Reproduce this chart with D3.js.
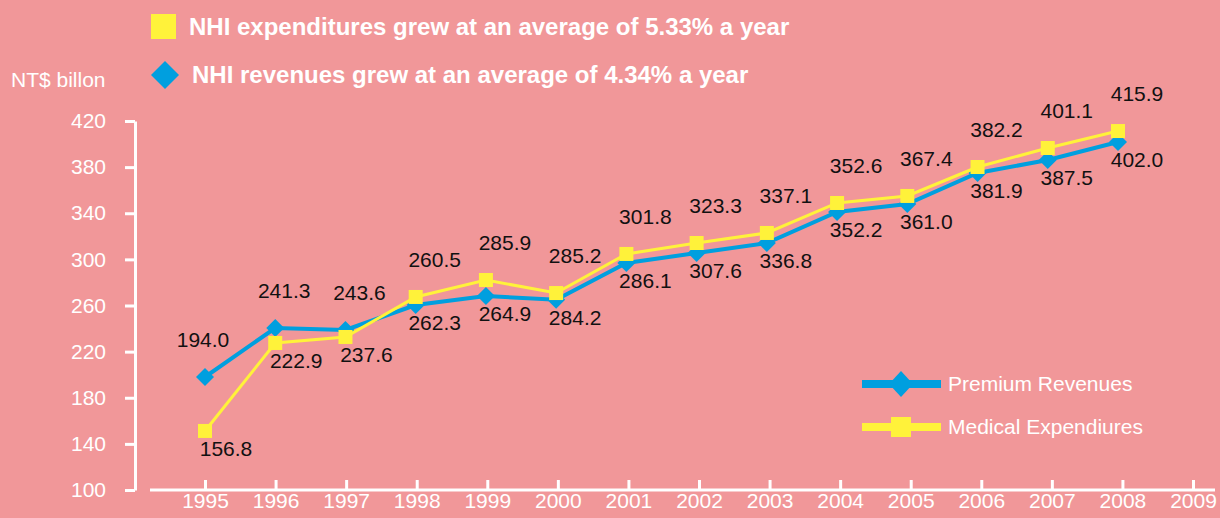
<!DOCTYPE html>
<html>
<head>
<meta charset="utf-8">
<script src="https://cdn.jsdelivr.net/npm/d3@7"></script>
<style>
  body { margin: 0; background: #f19799; }
  svg { display: block; font-family: "Liberation Sans", Arial, sans-serif; }
</style>
</head>
<body>
<svg id="chart" width="1220" height="518"></svg>
<script>
// data
const years = [1995, 1996, 1997, 1998, 1999, 2000, 2001, 2002, 2003, 2004, 2005, 2006, 2007, 2008];
const revenues = [198.0, 240.5, 238.8, 260.4, 268.2, 265.0, 296.9, 305.5, 314.2, 341.1, 348.0, 374.9, 386.2, 401.8];
const expenditures = [151.2, 227.5, 232.7, 267.4, 282.1, 270.8, 304.7, 314.2, 322.9, 348.9, 355.0, 380.1, 396.6, 411.3];
// printed value labels (above and below the pair of points)
const upperLabels = ["194.0", "241.3", "243.6", "260.5", "285.9", "285.2", "301.8", "323.3", "337.1", "352.6", "367.4", "382.2", "401.1", "415.9"];
const lowerLabels = ["156.8", "222.9", "237.6", "262.3", "264.9", "284.2", "286.1", "307.6", "336.8", "352.2", "361.0", "381.9", "387.5", "402.0"];
const yTicks = [100, 140, 180, 220, 260, 300, 340, 380, 420];
const xTicks = [1995, 1996, 1997, 1998, 1999, 2000, 2001, 2002, 2003, 2004, 2005, 2006, 2007, 2008, 2009];
const headlines = ["NHI expenditures grew at an average of 5.33% a year", "NHI revenues grew at an average of 4.34% a year"];
const seriesNames = ["Premium Revenues", "Medical Expendiures"];

const BLUE = "#009fdf", YELLOW = "#fff23a", WHITE = "#ffffff";

const svg = d3.select("#chart");

const y = d3.scaleLinear().domain([100, 420]).range([490, 121]);
const xAxisScale = d3.scaleLinear().domain([1995, 2009]).range([205, 1193]);
const x = d3.scaleLinear().domain([1995, 2008]).range([205, 1118]);

// y axis
const yAxis = svg.append("g")
  .attr("transform", "translate(135,0)")
  .call(d3.axisLeft(y).tickValues(yTicks).tickSize(10).tickSizeOuter(0).tickPadding(19));
yAxis.select(".domain").attr("stroke", WHITE).attr("stroke-width", 3);
yAxis.selectAll(".tick line").attr("stroke", WHITE).attr("stroke-width", 3);
yAxis.selectAll(".tick text").attr("fill", WHITE).attr("font-size", 21).attr("font-family", "Liberation Sans, Arial");

// x axis, ticks pointing up
const xAxis = svg.append("g")
  .attr("transform", "translate(0,490)")
  .call(d3.axisBottom(xAxisScale).tickValues(xTicks).tickFormat(d3.format("d")).tickSize(-10).tickSizeOuter(0).tickPadding(3));
xAxis.select(".domain").remove();
xAxis.append("line").attr("x1", 150).attr("x2", 1215).attr("stroke", WHITE).attr("stroke-width", 3);
xAxis.selectAll(".tick line").attr("stroke", WHITE).attr("stroke-width", 3);
xAxis.selectAll(".tick text").attr("fill", WHITE).attr("font-size", 21).attr("font-family", "Liberation Sans, Arial");

svg.append("text").attr("x", 11).attr("y", 80).attr("dy", "0.35em")
  .attr("fill", WHITE).attr("font-size", 21).text("NT$ billon");

// lines
const line = vals => d3.line().x((d, i) => x(years[i])).y(d => y(d))(vals);

svg.append("path").attr("d", line(revenues)).attr("fill", "none")
  .attr("stroke", BLUE).attr("stroke-width", 4);
svg.selectAll(".rev").data(revenues).enter().append("path")
  .attr("class", "rev")
  .attr("transform", (d, i) => `translate(${x(years[i])},${y(d)})`)
  .attr("d", "M0,-9L9,0L0,9L-9,0Z")
  .attr("fill", BLUE);

svg.append("path").attr("d", line(expenditures)).attr("fill", "none")
  .attr("stroke", YELLOW).attr("stroke-width", 3);
svg.selectAll(".exp").data(expenditures).enter().append("rect")
  .attr("class", "exp")
  .attr("x", (d, i) => x(years[i]) - 7)
  .attr("y", d => y(d) - 7)
  .attr("width", 14).attr("height", 14)
  .attr("fill", YELLOW);

// value labels
const upperNudge = { 0: -2, 1: 9, 2: 14 };
svg.selectAll(".ulab").data(upperLabels).enter().append("text")
  .attr("class", "ulab")
  .attr("x", (d, i) => x(years[i]) + (i in upperNudge ? upperNudge[i] : 19))
  .attr("y", (d, i) => Math.min(y(revenues[i]), y(expenditures[i])) - 37)
  .attr("dy", "0.35em").attr("text-anchor", "middle")
  .attr("font-size", 21).attr("fill", "#111")
  .text(d => d);
svg.selectAll(".llab").data(lowerLabels).enter().append("text")
  .attr("class", "llab")
  .attr("x", (d, i) => x(years[i]) + (i < 3 ? 21 : 19))
  .attr("y", (d, i) => Math.max(y(revenues[i]), y(expenditures[i])) + 18)
  .attr("dy", "0.35em").attr("text-anchor", "middle")
  .attr("font-size", 21).attr("fill", "#111")
  .text(d => d);

// headline legend at top
svg.append("rect").attr("x", 151).attr("y", 14).attr("width", 25).attr("height", 25).attr("fill", YELLOW);
svg.append("text").attr("x", 189).attr("y", 27).attr("dy", "0.35em")
  .attr("fill", WHITE).attr("font-size", 24).attr("font-weight", "bold").text(headlines[0]);
svg.append("path").attr("transform", "translate(165,75)").attr("d", "M0,-14L14,0L0,14L-14,0Z").attr("fill", BLUE);
svg.append("text").attr("x", 192).attr("y", 75).attr("dy", "0.35em")
  .attr("fill", WHITE).attr("font-size", 24).attr("font-weight", "bold").text(headlines[1]);

// series legend
const legend = svg.append("g");
legend.append("line").attr("x1", 862).attr("x2", 941).attr("y1", 384).attr("y2", 384)
  .attr("stroke", BLUE).attr("stroke-width", 8);
legend.append("path").attr("transform", "translate(901,384)").attr("d", "M0,-13L12,0L0,13L-12,0Z").attr("fill", BLUE);
legend.append("text").attr("x", 948).attr("y", 384).attr("dy", "0.35em")
  .attr("fill", WHITE).attr("font-size", 21).text(seriesNames[0]);
legend.append("line").attr("x1", 862).attr("x2", 941).attr("y1", 427).attr("y2", 427)
  .attr("stroke", YELLOW).attr("stroke-width", 8);
legend.append("rect").attr("x", 891).attr("y", 417).attr("width", 20).attr("height", 20).attr("fill", YELLOW);
legend.append("text").attr("x", 948).attr("y", 427).attr("dy", "0.35em")
  .attr("fill", WHITE).attr("font-size", 21).text(seriesNames[1]);
</script>
</body>
</html>
